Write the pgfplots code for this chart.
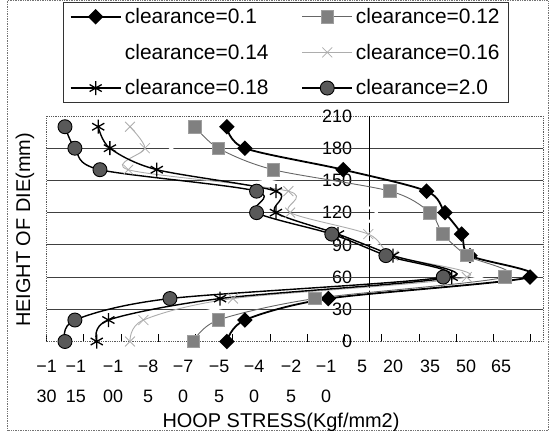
\documentclass[border=0pt]{standalone}
\usepackage{fontspec}
\setmainfont{Liberation Sans}
\usepackage{pgfplots}
\pgfplotsset{compat=1.18}
\usetikzlibrary{plotmarks}

\definecolor{sqfill}{gray}{0.5}
\definecolor{sqdraw}{gray}{0.62}
\definecolor{ltgray}{gray}{0.68}
\definecolor{circfill}{gray}{0.35}

\begin{document}
\begin{tikzpicture}
\path[use as bounding box] (0,0) rectangle (551bp,431bp);
\draw[black!55, densely dotted, line width=0.7bp] (7bp,0.5bp) rectangle (548bp,430.5bp);
\begin{axis}[
  at={(46.6bp,89.5bp)}, anchor=south west,
  scale only axis, width=496.4bp, height=225.5bp,
  xmin=-130, xmax=70, ymin=0, ymax=210,
  axis line style={black!65, densely dotted, line width=0.8bp},
  % tick marks without labels
  xtick={-130,-115,...,65},
  xticklabels={},
  xtick pos=left, xtick align=inside,
  major tick length=7bp,
  xtick style={black, line width=0.7bp},
  % labels, where the scan puts them
  extra x ticks={-130,-118.2,-103.2,-89.1,-75.0,-60.5,-46.4,-31.5,-17.4,-2.9,9.6,24.5,39.0,53.1},
  extra x tick labels={{−1\\30},{−1\\15},{−1\\00},{−8\\5},{−7\\0},{−5\\5},{−4\\0},{−2\\5},{−1\\0},5,20,35,50,65},
  extra x tick style={major tick length=0pt},
  xticklabel style={align=center, font=\fontsize{18}{30}\selectfont, yshift=-15bp},
  ytick={0,30,...,210},
  ytick style={draw=none},
  yticklabel style={font=\fontsize{18}{20}\selectfont, xshift=309bp},
  /pgf/number format/assume math mode=true,
  extra y ticks={30,60,...,180},
  extra y tick labels={},
  extra y tick style={grid=major, major tick length=0pt},
  major grid style={black!75, line width=0.9bp, solid},
  xlabel={HOOP STRESS(Kgf/mm2)},
  xlabel style={at={(axis description cs:0.4722,-0.383)}, anchor=base, font=\fontsize{20}{24}\selectfont},
  ylabel={HEIGHT OF DIE(mm)},
  ylabel style={at={(axis description cs:-0.0435,0.4945)}, anchor=center, font=\fontsize{20}{24}\selectfont},
  legend columns=2,
  legend cell align=left,
  legend image code/.code={\draw[mark repeat=2,mark phase=2,#1] plot coordinates {(0bp,0bp) (25bp,0bp) (50bp,0bp)};},
  legend style={at={(axis description cs:0.4823,1.5055)}, anchor=north,
    draw=black!80, line width=0.8bp, font=\fontsize{21}{25}\selectfont,
    inner xsep=6bp, inner ysep=3bp,
    nodes={inner sep=3bp},
    /tikz/row sep=13bp,
    /tikz/every even column/.append style={column sep=30bp}},
  every axis plot/.append style={smooth, tension=0.5},
]
\draw[black, line width=0.8bp] (axis cs:0,0) -- (axis cs:0,210);

% clearance=0.14 : white line, it only shows where it cuts the grid
\addplot[forget plot, white, line width=2.5bp] coordinates {
  (-83,0) (-78,20) (-38,40) (45,60) (15,80) (-6,100) (3,120) (-20,140) (-62,160) (-80,180) (-86,200)
};

\addplot[black, line width=1.8bp, mark=square*, mark size=4.6bp, mark options={solid, rotate=45, fill=black}] coordinates {
  (-57.4,0) (-50.1,20) (-16.5,40) (64.8,60) (40.6,80) (37.2,100) (30.5,120) (23.1,140) (-10.5,160) (-50.1,180) (-57.4,200)
};
\addlegendentry{clearance=0.1}

\addplot[black!60, line width=0.9bp, mark=square*, mark size=6.3bp, mark options={solid, fill=sqfill, draw=sqdraw, line width=0.8bp}] coordinates {
  (-70.9,0) (-60.8,20) (-21.9,40) (54.7,60) (39.3,80) (29.7,100) (24.5,120) (8.4,140) (-38.7,160) (-60.8,180) (-70.2,200)
};
\addlegendentry{clearance=0.12}

\addlegendimage{white, line width=2.5bp}
\addlegendentry{clearance=0.14}

\addplot[ltgray, line width=0.9bp, mark=x, mark size=7bp, mark options={solid, line width=0.8bp}] coordinates {
  (-96.4,0) (-91.0,20) (-54.9,40) (39.3,60) (9.6,80) (-0.4,100) (-31.9,120) (-32.6,140) (-97.1,160) (-90.4,180) (-96.4,200)
};
\addlegendentry{clearance=0.16}

\addplot[black, line width=1.4bp, mark=asterisk, mark size=7bp, mark options={solid, line width=1.3bp}] coordinates {
  (-109.8,0) (-105.1,20) (-60.1,40) (33.2,60) (9.6,80) (-12.6,100) (-37.6,120) (-37.6,140) (-85.6,160) (-104.5,180) (-109.2,200)
};
\addlegendentry{clearance=0.18}

\addplot[black, line width=1.4bp, mark=*, mark size=7bp, mark options={solid, fill=circfill, draw=black, line width=0.9bp}] coordinates {
  (-122.6,0) (-118.6,20) (-80.3,40) (29.8,60) (6.7,80) (-15.1,100) (-45.4,120) (-45.4,140) (-108.5,160) (-118.6,180) (-122.6,200)
};
\addlegendentry{clearance=2.0}
\end{axis}
\end{tikzpicture}
\end{document}
